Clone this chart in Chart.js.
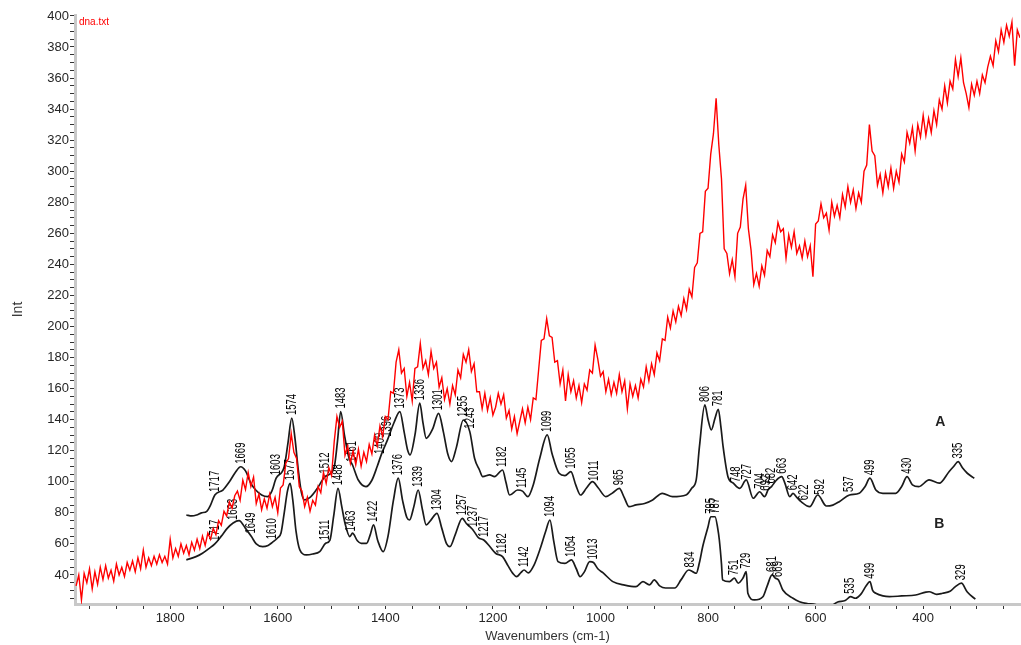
<!DOCTYPE html>
<html>
<head>
<meta charset="utf-8">
<script src="https://cdn.jsdelivr.net/npm/chart.js@4.4.1/dist/chart.umd.min.js"></script>
<style>
  html, body { margin: 0; padding: 0; background: #ffffff; }
  canvas { display: block; }
</style>
</head>
<body>
<canvas id="spectrum" width="1021" height="645"></canvas>
<script>
// ---- Raman spectrum of the sample (dna.txt), wavenumbers in cm-1 ----
const dnaWavenumbers = [
  1975,1970,1965,1960,1955,1950,1945,1940,1935,1930,
  1925,1920,1915,1910,1905,1900,1895,1890,1885,1880,
  1875,1870,1865,1860,1855,1850,1845,1840,1835,1830,
  1825,1820,1815,1810,1805,1800,1795,1790,1785,1780,
  1775,1770,1765,1760,1755,1750,1745,1740,1735,1730,
  1725,1720,1715,1710,1705,1700,1695,1690,1685,1680,
  1675,1670,1665,1660,1655,1650,1645,1640,1635,1630,
  1625,1620,1615,1610,1605,1600,1595,1590,1585,1580,
  1575,1570,1565,1560,1555,1550,1545,1540,1535,1530,
  1525,1520,1515,1510,1505,1500,1495,1490,1485,1480,
  1475,1470,1465,1460,1455,1450,1445,1440,1435,1430,
  1425,1420,1415,1410,1405,1400,1395,1390,1385,1380,
  1375,1370,1365,1360,1355,1350,1345,1340,1335,1330,
  1325,1320,1315,1310,1305,1300,1295,1290,1285,1280,
  1275,1270,1265,1260,1255,1250,1245,1240,1235,1230,
  1225,1220,1215,1210,1205,1200,1195,1190,1185,1180,
  1175,1170,1165,1160,1155,1150,1145,1140,1135,1130,
  1125,1120,1115,1110,1105,1100,1095,1090,1085,1080,
  1075,1070,1065,1060,1055,1050,1045,1040,1035,1030,
  1025,1020,1015,1010,1005,1000,995,990,985,980,
  975,970,965,960,955,950,945,940,935,930,
  925,920,915,910,905,900,895,890,885,880,
  875,870,865,860,855,850,845,840,835,830,
  825,820,815,810,805,800,795,790,785,780,
  775,770,765,760,755,750,745,740,735,730,
  725,720,715,710,705,700,695,690,685,680,
  675,670,665,660,655,650,645,640,635,630,
  625,620,615,610,605,600,595,590,585,580,
  575,570,565,560,555,550,545,540,535,530,
  525,520,515,510,505,500,495,490,485,480,
  475,470,465,460,455,450,445,440,435,430,
  425,420,415,410,405,400,395,390,385,380,
  375,370,365,360,355,350,345,340,335,330,
  325,320,315,310,305,300,295,290,285,280,
  275,270,265,260,255,250,245,240,235,230,
  225,220
];
const dnaIntensity = [
  33,40,24,41,35,44,31,42,34,45,
  37,46,38,43,36,47,40,45,39,48,
  43,49,42,51,44,56,45,51,46,52,
  47,53,48,52,47,63,51,57,52,60,
  54,59,53,61,56,63,57,65,59,67,
  63,70,66,75,72,81,78,87,83,91,
  94,88,101,95,106,97,103,86,92,82,
  89,83,92,84,90,80,96,98,112,115,
  131,119,115,97,94,84,90,81,88,85,
  97,93,106,99,109,104,126,142,135,139,
  117,123,112,120,111,121,110,119,113,124,
  118,130,123,136,129,142,140,158,157,177,
  185,170,173,155,164,152,173,174,189,173,
  178,169,184,173,177,161,167,153,160,150,
  162,156,172,167,182,177,185,171,176,158,
  158,147,157,146,154,143,148,157,150,156,
  141,146,134,142,131,139,147,138,148,140,
  154,153,172,191,192,205,194,193,177,178,
  163,172,152,169,158,165,154,162,151,163,
  159,172,170,188,179,168,171,158,166,156,
  164,157,169,158,165,147,163,155,162,154,
  166,161,174,165,176,169,183,178,192,191,
  206,199,210,203,213,207,218,211,224,219,
  238,241,260,261,287,289,311,324,347,317,
  295,250,247,234,243,232,260,264,282,291,
  263,249,227,234,226,239,233,249,245,259,
  254,267,261,263,244,259,251,261,247,252,
  244,255,245,252,232,266,268,279,270,273,
  262,280,271,278,270,285,277,290,280,288,
  276,286,280,300,304,330,313,310,291,298,
  286,299,290,302,289,300,293,311,306,325,
  318,328,313,330,322,336,323,334,325,339,
  330,346,340,355,344,358,353,372,361,373,
  357,350,341,356,349,358,350,362,357,367,
  374,368,384,377,391,383,394,387,396,368,
  391,386
];

// ---- Reference spectrum A ----
const specAWavenumbers = [
  1770,1760,1751,1742,1732,1725,1717,1702,1690,1679,1669,1660,1650,1641,1630,1619,1611,1603,1588,1581,
  1574,1568,1562,1556,1550,1540,1528,1512,1495,1489,1483,1476,1468,1461,1450,1436,1425,1415,1407,1396,
  1384,1373,1365,1359,1354,1345,1336,1330,1324,1312,1301,1292,1284,1277,1268,1255,1243,1234,1225,1219,
  1206,1197,1182,1176,1169,1154,1145,1135,1125,1113,1099,1090,1077,1066,1055,1046,1037,1026,1015,1004,
  990,977,965,956,947,934,918,903,885,866,841,830,822,816,806,800,794,787,781,776,
  772,763,753,741,729,716,704,695,688,682,673,663,657,648,642,635,627,611,596,580,
  568,556,537,519,508,499,488,475,451,440,430,420,408,389,370,352,343,335,327,318,
  305
];
const specAIntensity = [
  78.6,78,78.6,80,81,85,91.5,94.7,100,106,109.7,107,99,94.7,91.5,90.4,94,102.3,109.7,125,
  141,128,108,93,88.3,90,95,103.3,109.7,126,145.2,130,116,110.8,101,96.9,101,110,118,127,
  138,145.2,132,121,117.3,130,150.6,138,128,134,144.1,132,118,113,122,139.8,132.3,115,107.6,103.3,
  104.4,103.3,107.6,100,91.5,94.7,94,90.4,98,115,130.2,118,105.5,104,106.5,98,91.5,96,100.1,96,
  90.4,93,95.8,90,84,85.1,86,88.3,92.6,90.4,91.5,96,101.2,122.6,149.5,140,133.4,141,146.7,135,
  122.6,103.3,99.1,95.8,101.2,89.4,93.6,90.4,95,96.9,101,103.3,99,90.4,92.6,90,87.2,84,91.5,84.4,
  85,87.2,91.5,92.6,97,102.3,94.7,92.6,92.6,97,103.3,98,96.9,101.2,99.1,106.5,110,113,109,105.5,
  102.3
];

// ---- Reference spectrum B ----
const specBWavenumbers = [
  1770,1752,1740,1728,1717,1705,1694,1683,1672,1660,1649,1640,1628,1618,1610,1600,1594,1588,1582,1577,
  1572,1566,1559,1547,1535,1522,1511,1503,1496,1488,1481,1475,1466,1461,1452,1445,1435,1428,1422,1414,
  1404,1395,1385,1376,1368,1360,1355,1347,1339,1331,1324,1316,1304,1295,1286,1280,1270,1257,1249,1243,
  1237,1227,1217,1205,1195,1182,1172,1163,1156,1148,1142,1134,1124,1112,1102,1094,1087,1079,1066,1054,
  1045,1038,1030,1020,1013,1005,995,977,955,934,921,909,900,890,879,862,850,836,828,822,
  816,810,800,795,787,782,779,775,773,760,751,744,735,729,726,714,698,690,681,675,
  669,661,642,630,615,600,578,559,545,535,526,515,506,499,494,488,475,463,440,414,
  395,389,375,364,350,340,329,318,303
];
const specBIntensity = [
  49.7,51.8,54,57,60,65,70,73.5,75,70,64.7,60,58.2,59,61,64,67,80,94,99,
  88,68,56.1,52.9,53.5,55,60.4,62.5,78,95.8,84,73.3,64.7,66.9,62,60.4,60.4,66,72.2,62,
  55,65,88,102.3,88,77,75.4,84,94.7,82,72.2,75,79.7,70,60,58.2,66,76.5,73,71.1,
  69,64,62.5,58,54,51.8,46,41,38.9,41.5,43.2,41.3,46,57,68,75.4,62,48.6,47.5,49.7,
  44,38.9,42,48.6,48,44,41.3,35.7,33.5,32.5,35.7,33.6,36.8,33,31.6,31.6,37,43.2,42,41.1,
  48,58.2,71.1,77.5,77.5,70,62.5,47,36.8,35.7,37.9,34.7,38,42.1,28.2,23.9,26,33,40,38,
  36.8,30.3,25,22.8,21.5,21,19,22.6,23.5,26,25,28,33,35.7,30,28.2,26.5,26,26.5,27.1,
  29,29.2,27.5,28.2,29.5,32.5,34.7,29,24.4
];

// ---- Band assignments written over each reference trace ----
const bandsA = [1717,1669,1603,1574,1512,1483,1461,1409,1396,1373,1336,1301,1255,1243,1182,1145,1099,1055,1011,965,
  806,781,748,727,704,692,682,663,642,622,592,537,499,430,335];
const bandsB = [1717,1683,1649,1610,1577,1511,1488,1463,1422,1376,1339,1304,1257,1237,1217,1182,1142,1094,1054,1013,
  834,795,787,751,729,681,669,535,499,329];

// Trace tags and where they sit (wavenumber, intensity)
const traceTags = ['A', 'B'];
const traceTagWavenumbers = [368, 370];
const traceTagIntensities = [138.5, 72.8];

// Axis tick labels
const xTickLabels = [1800, 1600, 1400, 1200, 1000, 800, 600, 400];
const yTickLabels = [40, 60, 80, 100, 120, 140, 160, 180, 200, 220, 240, 260, 280, 300, 320, 340, 360, 380, 400];

// minor tick marks every 50 cm-1 and every 5 intensity units
const xTickMarks = [];
for (let w = 1950; w >= 250; w -= 50) xTickMarks.push(w);
const yTickMarks = [];
for (let v = 25; v <= 400; v += 5) yTickMarks.push(v);

const toPoints = (xs, ys) => xs.map((x, i) => ({ x: x, y: ys[i] }));

// value of a trace at wavenumber w (used to seat the band labels on the trace)
function traceValueAt(wns, vals, w) {
  for (let i = 0; i < wns.length - 1; i++) {
    if (w <= wns[i] && w >= wns[i + 1]) {
      const t = (wns[i] - w) / (wns[i] - wns[i + 1]);
      return vals[i] + t * (vals[i + 1] - vals[i]);
    }
  }
  return vals[vals.length - 1];
}

const annotations = {
  id: 'bandAnnotations',
  beforeDatasetDraw(chart, args) {
    if (args.index !== 0) return; // drawn just before the red trace
    const ctx = chart.ctx, xs = chart.scales.x, ys = chart.scales.y, area = chart.chartArea;
    ctx.save();
    ctx.beginPath();
    ctx.rect(area.left, area.top, area.right - area.left, area.bottom - area.top);
    ctx.clip();
    ctx.fillStyle = '#000000';
    ctx.font = '14px "Liberation Sans", Arial, sans-serif';
    ctx.textAlign = 'left';
    ctx.textBaseline = 'middle';
    const writeBands = (bands, wns, vals) => {
      bands.forEach(b => {
        const px = xs.getPixelForValue(b);
        const py = ys.getPixelForValue(traceValueAt(wns, vals, b));
        ctx.save();
        ctx.translate(px, py - 3);
        ctx.rotate(-Math.PI / 2);
        ctx.scale(0.68, 1);
        ctx.fillText(String(b), 0, 0);
        ctx.restore();
      });
    };
    writeBands(bandsA, specAWavenumbers, specAIntensity);
    writeBands(bandsB, specBWavenumbers, specBIntensity);

    ctx.font = 'bold 14px "Liberation Sans", Arial, sans-serif';
    ctx.textAlign = 'center';
    ctx.fillStyle = '#222222';
    traceTags.forEach((t, i) => {
      ctx.fillText(t, xs.getPixelForValue(traceTagWavenumbers[i]), ys.getPixelForValue(traceTagIntensities[i]));
    });
    ctx.restore();
  },
  afterDraw(chart) {
    const ctx = chart.ctx, area = chart.chartArea;
    ctx.save();
    ctx.fillStyle = '#ff0000';
    ctx.font = '10px "Liberation Sans", Arial, sans-serif';
    ctx.textAlign = 'left';
    ctx.textBaseline = 'middle';
    ctx.fillText('dna.txt', area.left + 4, area.top + 7);
    ctx.restore();
  }
};

const tickFont = { family: '"Liberation Sans", Arial, sans-serif', size: 13 };

new Chart(document.getElementById('spectrum'), {
  type: 'line',
  data: {
    datasets: [
      {
        label: 'dna.txt',
        data: toPoints(dnaWavenumbers, dnaIntensity),
        borderColor: '#ff0000',
        borderWidth: 1.4,
        pointRadius: 0,
        tension: 0
      },
      {
        label: 'A',
        data: toPoints(specAWavenumbers, specAIntensity),
        borderColor: '#1a1a1a',
        borderWidth: 1.7,
        pointRadius: 0,
        cubicInterpolationMode: 'monotone'
      },
      {
        label: 'B',
        data: toPoints(specBWavenumbers, specBIntensity),
        borderColor: '#1a1a1a',
        borderWidth: 1.7,
        pointRadius: 0,
        cubicInterpolationMode: 'monotone'
      }
    ]
  },
  options: {
    responsive: false,
    animation: false,
    devicePixelRatio: 1,
    layout: { padding: { top: 15, right: 1, left: 0, bottom: 0 } },
    plugins: { legend: { display: false }, tooltip: { enabled: false } },
    scales: {
      x: {
        type: 'linear',
        reverse: true,
        min: 220,
        max: 1977,
        afterBuildTicks: axis => { axis.ticks = xTickMarks.map(v => ({ value: v })); },
        afterFit: axis => { axis.height = 41; },
        ticks: {
          autoSkip: false,
          maxRotation: 0,
          padding: 2,
          color: '#262626',
          font: tickFont,
          callback: v => (xTickLabels.includes(v) ? String(v) : '')
        },
        grid: { drawOnChartArea: false, drawTicks: true, tickLength: 5, tickColor: '#333333', tickWidth: 1 },
        border: { display: true, color: '#c8c8c8', width: 3 },
        title: {
          display: true,
          text: 'Wavenumbers (cm-1)',
          color: '#333333',
          font: { family: '"Liberation Sans", Arial, sans-serif', size: 13 },
          padding: { top: 0, bottom: 1 }
        }
      },
      y: {
        type: 'linear',
        min: 21.3,
        max: 400.6,
        afterBuildTicks: axis => { axis.ticks = yTickMarks.map(v => ({ value: v })); },
        afterFit: axis => { axis.width = 75; },
        ticks: {
          autoSkip: false,
          padding: 1,
          color: '#262626',
          font: tickFont,
          callback: v => (yTickLabels.includes(v) ? String(v) : '')
        },
        grid: { drawOnChartArea: false, drawTicks: true, tickLength: 5, tickColor: '#333333', tickWidth: 1 },
        border: { display: true, color: '#c8c8c8', width: 3 },
        title: {
          display: true,
          text: 'Int',
          color: '#333333',
          font: { family: '"Liberation Sans", Arial, sans-serif', size: 14 },
          padding: { top: 10, bottom: 0 }
        }
      }
    }
  },
  plugins: [annotations]
});
</script>
</body>
</html>
